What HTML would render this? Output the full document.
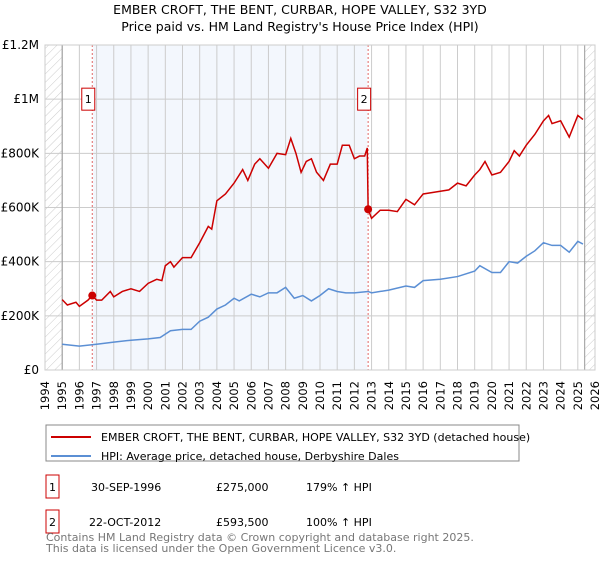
<!DOCTYPE html>
<html><head><meta charset="utf-8"><style>
body{margin:0;background:#fff;font-family:"DejaVu Sans","Liberation Sans",sans-serif;}
svg text{font-family:"DejaVu Sans","Liberation Sans",sans-serif;}
</style></head><body>
<svg id="chart" width="600" height="560" xmlns="http://www.w3.org/2000/svg">
<defs><pattern id="hatch" width="6" height="6" patternUnits="userSpaceOnUse" patternTransform="rotate(45)"><line x1="0" y1="0" x2="0" y2="6" stroke="#ccc" stroke-width="1"/></pattern></defs>
<text x="300" y="14" text-anchor="middle" font-size="12.5">EMBER CROFT, THE BENT, CURBAR, HOPE VALLEY, S32 3YD</text>
<text x="300" y="31" text-anchor="middle" font-size="12.5">Price paid vs. HM Land Registry's House Price Index (HPI)</text>
<g id="plot"></g>
<g>
<rect x="46" y="425" width="473" height="36" fill="#fff" stroke="#888"/>
<line x1="51" y1="437" x2="91" y2="437" stroke="#cc0000" stroke-width="2"/>
<text x="101" y="441" font-size="11">EMBER CROFT, THE BENT, CURBAR, HOPE VALLEY, S32 3YD (detached house)</text>
<line x1="51" y1="456" x2="91" y2="456" stroke="#5b8fd4" stroke-width="2"/>
<text x="101" y="460" font-size="11">HPI: Average price, detached house, Derbyshire Dales</text>
</g>
<g font-size="11">
<rect x="46" y="475" width="13" height="23" fill="none" stroke="#cc0000"/><text x="52.5" y="491" text-anchor="middle">1</text>
<text x="91" y="491">30-SEP-1996</text><text x="216" y="491">£275,000</text><text x="306" y="491">179% ↑ HPI</text>
<rect x="46" y="510" width="13" height="23" fill="none" stroke="#cc0000"/><text x="52.5" y="526" text-anchor="middle">2</text>
<text x="89" y="526">22-OCT-2012</text><text x="216" y="526">£593,500</text><text x="306" y="526">100% ↑ HPI</text>
</g>
<text x="46" y="541" font-size="11" fill="#777">Contains HM Land Registry data © Crown copyright and database right 2025.</text>
<text x="46" y="552" font-size="11" fill="#777">This data is licensed under the Open Government Licence v3.0.</text>
</svg>
<script>
const years=[1994,1995,1996,1997,1998,1999,2000,2001,2002,2003,2004,2005,2006,2007,2008,2009,2010,2011,2012,2013,2014,2015,2016,2017,2018,2019,2020,2021,2022,2023,2024,2025,2026];
const yTicks=[0,200000,400000,600000,800000,1000000,1200000];
const yTickLabels=["£0","£200K","£400K","£600K","£800K","£1M","£1.2M"];
const priceT=[1995.0,1995.3,1995.8,1996.0,1996.5,1996.75,1997.0,1997.3,1997.8,1998.0,1998.5,1999.0,1999.5,2000.0,2000.5,2000.8,2001.0,2001.3,2001.5,2002.0,2002.5,2003.0,2003.5,2003.7,2004.0,2004.5,2005.0,2005.5,2005.8,2006.2,2006.5,2007.0,2007.5,2008.0,2008.3,2008.6,2008.9,2009.2,2009.5,2009.8,2010.2,2010.6,2011.0,2011.3,2011.7,2012.0,2012.3,2012.6,2012.75,2012.8,2013.0,2013.5,2014.0,2014.5,2015.0,2015.5,2016.0,2016.5,2017.0,2017.5,2018.0,2018.5,2019.0,2019.3,2019.6,2020.0,2020.5,2021.0,2021.3,2021.6,2022.0,2022.5,2023.0,2023.3,2023.5,2024.0,2024.5,2025.0,2025.3];
const priceV=[260,240,250,235,258,275,258,258,290,270,290,300,290,320,335,330,385,400,380,415,415,470,530,520,625,650,690,740,700,760,780,745,800,795,855,800,730,770,780,730,700,760,760,830,830,780,790,790,820,593.5,560,590,590,585,630,610,650,655,660,665,690,680,720,740,770,720,730,770,810,790,830,870,920,940,910,920,860,940,925];
const hpiT=[1995,1996,1997,1998,1999,2000,2000.7,2001.3,2002,2002.5,2003,2003.5,2004,2004.5,2005,2005.3,2006,2006.5,2007,2007.5,2008,2008.5,2009,2009.5,2010,2010.5,2011,2011.5,2012,2012.8,2013,2014,2015,2015.5,2016,2017,2018,2019,2019.3,2020,2020.5,2021,2021.5,2022,2022.5,2023,2023.5,2024,2024.5,2025,2025.3];
const hpiV=[95,88,95,103,110,115,120,145,150,150,180,195,225,240,265,255,280,270,285,285,305,265,275,255,275,300,290,285,285,290,285,295,310,305,330,335,345,365,385,360,360,400,395,420,440,470,460,460,435,475,465];
const saleT=[1996.75,2012.8];
const saleV=[275,593.5];
const saleLabels=["1","2"];

const NS="http://www.w3.org/2000/svg";
const L=45,R=595,T=45,B=370;
const x=t=>L+(t-1994)*(R-L)/32;
const y=v=>B-v/1200000*(B-T);
const g=document.getElementById('plot');
function mk(tag,attrs){const e=document.createElementNS(NS,tag);for(const k in attrs)e.setAttribute(k,attrs[k]);g.appendChild(e);return e;}
let e;
e=mk('rect',{x:L,y:T,width:R-L,height:B-T,fill:'#fff'});


e=mk('rect',{x:x(1996.8),y:T,width:x(2012.75)-x(1996.8),height:B-T,fill:'#eef3fc',opacity:0.7});


e=mk('rect',{x:L,y:T,width:x(1995)-L,height:B-T,fill:'url(#hatch)'});


e=mk('rect',{x:x(2025.4),y:T,width:R-x(2025.4),height:B-T,fill:'url(#hatch)'});


years.forEach(yr=>{
  const xx=x(yr);
  if(xx>L+1&&xx<R-1){e=mk('line',{x1:xx,x2:xx,y1:T,y2:B,stroke:'#ccc','stroke-width':1});
  
  }
  e=mk('text',{x:0,y:0,'font-size':11.5,'text-anchor':'end',transform:`translate(${xx+4},${B+11}) rotate(-90)`});
  e.textContent=yr;
  
  
});
yTicks.forEach((v,i)=>{
  e=mk('line',{x1:L,x2:R,y1:y(v),y2:y(v),stroke:'#ccc','stroke-width':1});
  
  
  e=mk('text',{x:39,y:y(v)+4,'font-size':12,'text-anchor':'end'});
  e.textContent=yTickLabels[i];
  
  
});
e=mk('line',{x1:x(1995),x2:x(1995),y1:T,y2:B,stroke:'#999'});


e=mk('line',{x1:x(2025.4),x2:x(2025.4),y1:T,y2:B,stroke:'#999'});


saleT.forEach((t,i)=>{
  e=mk('line',{x1:x(t),x2:x(t),y1:T,y2:B,stroke:'#e06666','stroke-dasharray':'2,2'});
  
  
});
e=mk('polyline',{points:hpiT.map((t,i)=>x(t)+','+y(hpiV[i]*1000)).join(' '),fill:'none',stroke:'#5b8fd4','stroke-width':1.5});


e=mk('polyline',{points:priceT.map((t,i)=>x(t)+','+y(priceV[i]*1000)).join(' '),fill:'none',stroke:'#cc0000','stroke-width':1.5});


saleT.forEach((t,i)=>{
  e=mk('circle',{cx:x(t),cy:y(saleV[i]*1000),r:4,fill:'#cc0000'});
  
  
  const bx=x(t)-4;
  e=mk('rect',{x:bx-6.5,y:y(1000000)-11,width:13,height:22,fill:'#fff',stroke:'#cc0000'});
  
  
  e=mk('text',{x:bx,y:y(1000000)+4,'font-size':11,'text-anchor':'middle'});
  e.textContent=saleLabels[i];
  
  
});
e=mk('rect',{x:L,y:T,width:R-L,height:B-T,fill:'none',stroke:'#ccc'});


</script>
</body></html>
